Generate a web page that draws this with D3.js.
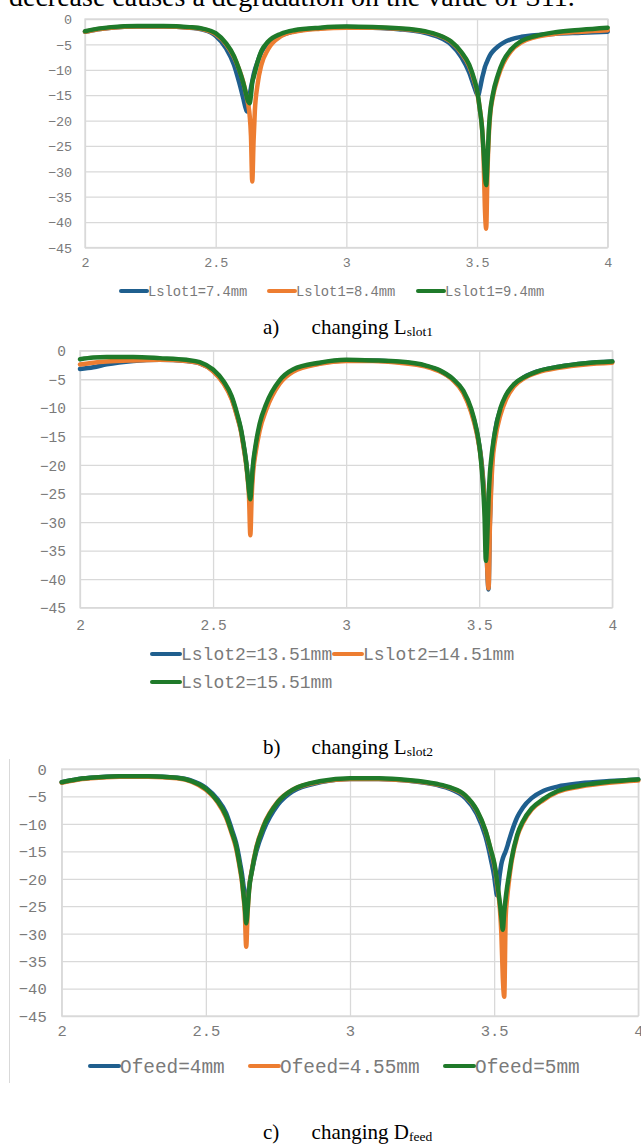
<!DOCTYPE html>
<html>
<head>
<meta charset="utf-8">
<script src="https://cdn.jsdelivr.net/npm/d3@7"></script>
<style>
  body { margin: 0; background: #fff; }
  svg { display: block; }
</style>
</head>
<body>
<svg id="page" width="641" height="1144"></svg>
<script>
// --- data: S11 (dB) against frequency (GHz)
const freq = [2, 2.05, 2.1, 2.2, 2.3, 2.4, 2.45, 2.5, 2.54, 2.57, 2.59, 2.605, 2.615, 2.62, 2.625, 2.63, 2.635, 2.64, 2.645, 2.65, 2.66, 2.675, 2.7, 2.75, 2.8, 2.9, 3, 3.1, 3.2, 3.3, 3.35, 3.4, 3.44, 3.47, 3.49, 3.5, 3.505, 3.51, 3.52, 3.525, 3.53, 3.535, 3.54, 3.545, 3.55, 3.56, 3.58, 3.6, 3.63, 3.67, 3.72, 3.8, 3.9, 4];

const xTicks = [2, 2.5, 3, 3.5, 4];
const yTicks = [0, -5, -10, -15, -20, -25, -30, -35, -40, -45];

// a) Lslot1
const namesA = ["Lslot1=7.4mm", "Lslot1=8.4mm", "Lslot1=9.4mm"];
const lslot1_74 = [-2.5, -2.0, -1.7, -1.5, -1.5, -1.7, -2.1, -3.3, -5.8, -9.0, -12.5, -15.5, -17.6, -18.2, -16.8, -15.0, -13.5, -12.3, -11.0, -10.0, -8.5, -6.5, -4.7, -3.2, -2.4, -1.8, -1.6, -1.7, -2.0, -2.7, -3.5, -5.0, -7.5, -10.5, -13.5, -14.8, -15.0, -14.0, -11.5, -10.5, -9.5, -8.8, -8.2, -7.6, -7.1, -6.4, -5.4, -4.7, -4.0, -3.5, -3.2, -2.9, -2.7, -2.5];
const lslot1_84 = [-2.5, -2.0, -1.7, -1.5, -1.5, -1.7, -2.0, -3.0, -5.0, -7.5, -10.0, -12.3, -14.5, -15.7, -17.0, -19.0, -23.0, -32.0, -24.0, -18.0, -13.0, -9.0, -6.0, -3.4, -2.5, -1.9, -1.7, -1.7, -1.9, -2.5, -3.2, -4.5, -6.7, -9.3, -12.3, -14.3, -15.8, -17.5, -22.0, -27.0, -37.0, -41.3, -30.0, -23.0, -19.0, -15.5, -11.5, -8.8, -6.3, -4.6, -3.6, -2.9, -2.5, -2.2];
const lslot1_94 = [-2.4, -1.9, -1.6, -1.4, -1.4, -1.6, -1.9, -2.8, -4.8, -7.3, -10.0, -12.5, -14.5, -15.6, -16.3, -16.6, -15.0, -12.5, -11.5, -10.5, -8.5, -6.3, -4.5, -2.9, -2.2, -1.7, -1.5, -1.6, -1.8, -2.4, -3.1, -4.4, -6.5, -9.0, -12.0, -14.0, -15.5, -17.5, -22.0, -26.0, -30.5, -32.7, -28.0, -22.0, -18.5, -15.0, -11.0, -8.3, -6.0, -4.3, -3.4, -2.6, -2.1, -1.7];

// b) Lslot2
const namesB = ["Lslot2=13.51mm", "Lslot2=14.51mm", "Lslot2=15.51mm"];
const lslot2_1351 = [-3.2, -2.9, -2.4, -1.8, -1.6, -1.8, -2.2, -3.5, -5.6, -8.3, -11.3, -14.0, -16.7, -18.2, -19.8, -22.0, -24.0, -25.8, -23.5, -20.5, -17.0, -13.3, -9.8, -5.5, -3.5, -2.2, -1.7, -1.7, -2.0, -2.7, -3.5, -5.0, -7.2, -10.5, -14.0, -16.5, -18.0, -20.0, -26.0, -31.0, -38.0, -41.8, -30.0, -22.5, -18.0, -14.0, -10.3, -8.0, -6.0, -4.6, -3.6, -2.8, -2.2, -1.9];
const lslot2_1451 = [-2.4, -2.1, -1.9, -1.7, -1.6, -1.8, -2.2, -3.6, -5.8, -8.5, -11.5, -14.2, -17.0, -18.5, -20.2, -22.5, -25.5, -32.3, -25.5, -21.5, -17.8, -14.0, -10.3, -5.8, -3.7, -2.3, -1.8, -1.8, -2.1, -2.8, -3.6, -5.1, -7.4, -10.8, -14.3, -16.8, -18.3, -20.5, -26.5, -31.5, -38.0, -41.6, -31.0, -24.0, -19.5, -15.5, -11.2, -8.6, -6.3, -4.8, -3.8, -3.0, -2.4, -2.1];
const lslot2_1551 = [-1.5, -1.2, -1.1, -1.1, -1.3, -1.6, -2.0, -3.3, -5.4, -8.0, -11.0, -13.8, -16.5, -18.0, -19.8, -22.0, -24.5, -26.0, -23.0, -20.0, -16.5, -12.8, -9.3, -5.2, -3.3, -2.1, -1.6, -1.7, -1.9, -2.6, -3.4, -4.9, -7.0, -10.2, -13.8, -16.5, -18.5, -21.0, -29.0, -36.8, -33.0, -26.0, -21.5, -19.0, -17.0, -14.0, -10.0, -7.8, -5.9, -4.6, -3.6, -2.8, -2.2, -1.9];

// c) Dfeed
const namesC = ["Ofeed=4mm", "Ofeed=4.55mm", "Ofeed=5mm"];
const dfeed_4 = [-2.4, -1.9, -1.6, -1.3, -1.3, -1.6, -2.1, -3.4, -5.5, -8.0, -11.0, -13.5, -16.0, -17.5, -19.0, -21.0, -23.0, -25.0, -24.0, -21.5, -18.5, -15.0, -11.2, -6.5, -4.1, -2.4, -1.8, -1.8, -2.1, -2.9, -3.7, -5.3, -8.2, -12.3, -16.8, -19.5, -21.5, -23.0, -19.0, -17.3, -16.3, -15.6, -15.0, -14.2, -13.3, -11.6, -8.8, -7.0, -5.3, -4.0, -3.2, -2.6, -2.2, -1.9];
const dfeed_455 = [-2.5, -2.0, -1.7, -1.4, -1.4, -1.7, -2.3, -3.8, -6.0, -8.8, -11.8, -14.5, -17.2, -18.8, -20.5, -23.0, -26.0, -32.4, -26.0, -22.0, -18.3, -14.3, -10.3, -5.9, -3.8, -2.3, -1.8, -1.8, -2.1, -2.8, -3.5, -4.9, -7.6, -11.3, -15.2, -17.3, -18.8, -21.0, -25.5, -30.0, -38.0, -41.5, -27.0, -23.5, -21.0, -17.0, -12.3, -9.8, -7.4, -5.7, -4.2, -3.2, -2.5, -2.1];
const dfeed_5 = [-2.4, -1.9, -1.6, -1.3, -1.3, -1.6, -2.2, -3.6, -5.8, -8.5, -11.5, -14.0, -16.8, -18.3, -20.0, -22.5, -25.0, -28.1, -25.5, -22.0, -18.5, -14.5, -10.5, -6.0, -3.8, -2.2, -1.7, -1.7, -2.0, -2.7, -3.4, -4.8, -7.5, -11.2, -15.0, -17.0, -18.5, -20.5, -24.5, -27.0, -29.3, -26.0, -23.5, -21.5, -19.8, -16.5, -12.0, -9.5, -7.2, -5.5, -4.0, -3.0, -2.3, -1.9];

const colors = ["#1f5f8e", "#ed7d31", "#1f7a2a"];

// --- reusable chart: closure keeps the panel layout, inner() draws it
const s11Chart = function() {
  let box;          // plot area in page pixels
  let tickFont = 13.5;
  let yGap = 13;
  let xLabelOff = 15;
  let legendFont = 14;
  let legendPos = [];
  let lineLen = 26;

  function inner(selection) {
    selection.each(function(data) {
      const g = d3.select(this);
      const x = d3.scaleLinear().domain([2, 4]).range([box.left, box.right]);
      const y = d3.scaleLinear().domain([-45, 0]).range([box.bottom, box.top]);

      // grid + labels via axes
      const xAxis = d3.axisBottom(x).tickValues(xTicks)
        .tickSize(-(box.bottom - box.top)).tickFormat(d3.format("~g"));
      const yAxis = d3.axisLeft(y).tickValues(yTicks)
        .tickSize(-(box.right - box.left));

      g.append("g").attr("transform", `translate(0,${box.bottom})`).call(xAxis)
        .call(a => a.select(".domain").remove())
        .call(a => a.selectAll("line").attr("stroke", "#d9d9d9").attr("stroke-width", 1.3))
        .call(a => a.selectAll("text").attr("y", xLabelOff).attr("dy", "0.35em")
          .attr("fill", "#7a7a7a").style("font", `${tickFont}px 'Liberation Mono', monospace`));

      g.append("g").attr("transform", `translate(${box.left},0)`).call(yAxis)
        .call(a => a.select(".domain").remove())
        .call(a => a.selectAll("line").attr("stroke", "#d9d9d9").attr("stroke-width", 1.3))
        .call(a => a.selectAll("text").attr("x", -yGap).attr("dy", "0.35em")
          .attr("fill", "#7a7a7a").style("font", `${tickFont}px 'Liberation Mono', monospace`));

      g.append("rect")
        .attr("x", box.left).attr("y", box.top)
        .attr("width", box.right - box.left).attr("height", box.bottom - box.top)
        .attr("fill", "none").attr("stroke", "#d9d9d9").attr("stroke-width", 1.3);

      const line = d3.line()
        .x((d, i) => x(freq[i]))
        .y(d => y(d))
        .curve(d3.curveMonotoneX);

      g.append("g").selectAll("path").data(data.series).join("path")
        .attr("d", d => line(d))
        .attr("fill", "none")
        .attr("stroke", (d, i) => colors[i])
        .attr("stroke-width", 4.5)
        .attr("stroke-linejoin", "round")
        .attr("stroke-linecap", "round");

      // legend
      const leg = g.append("g").selectAll("g").data(data.names).join("g")
        .attr("transform", (d, i) => `translate(${legendPos[i][0]},${legendPos[i][1]})`);
      leg.append("line")
        .attr("x1", 0).attr("x2", lineLen)
        .attr("stroke", (d, i) => colors[i]).attr("stroke-width", 4)
        .attr("stroke-linecap", "round");
      leg.append("text")
        .attr("x", lineLen + 1).attr("dy", "0.35em")
        .attr("fill", "#7a7a7a")
        .style("font", `${legendFont}px 'Liberation Mono', monospace`)
        .text(d => d);
    });
  }

  // --- getter-setter functions
  inner.box = function(v) { if (!arguments.length) return box; box = v; return inner; };
  inner.tickFont = function(v) { if (!arguments.length) return tickFont; tickFont = v; return inner; };
  inner.yGap = function(v) { if (!arguments.length) return yGap; yGap = v; return inner; };
  inner.xLabelOff = function(v) { if (!arguments.length) return xLabelOff; xLabelOff = v; return inner; };
  inner.legendFont = function(v) { if (!arguments.length) return legendFont; legendFont = v; return inner; };
  inner.legendPos = function(v) { if (!arguments.length) return legendPos; legendPos = v; return inner; };
  inner.lineLen = function(v) { if (!arguments.length) return lineLen; lineLen = v; return inner; };

  return inner;
};

const svg = d3.select("#page");

// body text cut at the top of the page
svg.append("text")
  .attr("x", 9).attr("y", 6)
  .style("font", "28px 'Liberation Serif', 'Times New Roman', serif")
  .attr("fill", "#000")
  .text("decrease causes a degradation on the value of S11.");

// thin rule left of panel c
svg.append("line")
  .attr("x1", 9.5).attr("x2", 9.5).attr("y1", 759).attr("y2", 1083)
  .attr("stroke", "#d9d9d9").attr("stroke-width", 1);

const chartA = s11Chart()
  .box({ left: 85, right: 607.7, top: 19, bottom: 247.5 })
  .tickFont(13.4).yGap(13).xLabelOff(15)
  .legendFont(13.8).lineLen(26)
  .legendPos([[121, 291], [269, 291], [418, 291]]);

const chartB = s11Chart()
  .box({ left: 80, right: 612.3, top: 350.7, bottom: 607.7 })
  .tickFont(14.5).yGap(14).xLabelOff(17)
  .legendFont(18).lineLen(28)
  .legendPos([[152, 654], [334, 654], [152, 682]]);

const chartC = s11Chart()
  .box({ left: 61.7, right: 638.3, top: 769, bottom: 1016 })
  .tickFont(15.5).yGap(15).xLabelOff(15)
  .legendFont(19.4).lineLen(29)
  .legendPos([[90, 1066], [250, 1066], [445, 1066]]);

svg.append("g").datum({ names: namesA, series: [lslot1_74, lslot1_84, lslot1_94] }).call(chartA);
svg.append("g").datum({ names: namesB, series: [lslot2_1351, lslot2_1451, lslot2_1551] }).call(chartB);
svg.append("g").datum({ names: namesC, series: [dfeed_4, dfeed_455, dfeed_5] }).call(chartC);

// captions
const captions = [
  { tag: "a)", main: "changing L", sub: "slot1", y: 334 },
  { tag: "b)", main: "changing L", sub: "slot2", y: 754 },
  { tag: "c)", main: "changing D", sub: "feed", y: 1139 }
];
captions.forEach(c => {
  svg.append("text").attr("x", 263).attr("y", c.y)
    .style("font", "21px 'Liberation Serif', 'Times New Roman', serif").text(c.tag);
  const t = svg.append("text").attr("x", 311.6).attr("y", c.y)
    .style("font", "21px 'Liberation Serif', 'Times New Roman', serif");
  t.append("tspan").text(c.main);
  t.append("tspan").attr("dy", 2).style("font-size", "13.5px").text(c.sub);
});
</script>
</body>
</html>
